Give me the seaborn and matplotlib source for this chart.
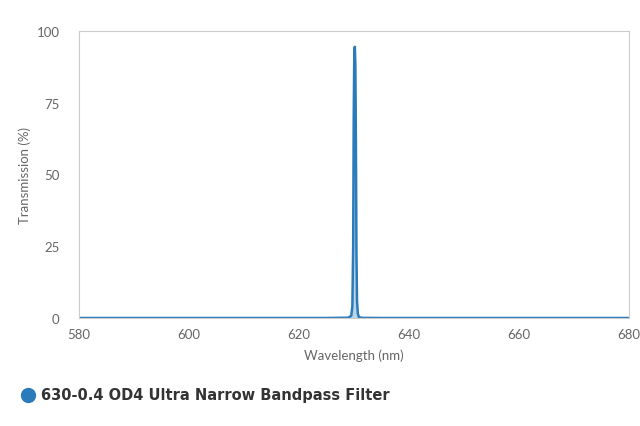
import numpy as np
import pandas as pd
import matplotlib
matplotlib.use("Agg")
import matplotlib.pyplot as plt
from matplotlib.lines import Line2D
import seaborn as sns

# spectrum (nm, %)
wavelength = [580, 625, 629.0, 629.5, 629.7, 629.85, 629.95, 630.05, 630.15, 630.25, 630.35, 630.45, 630.55, 630.7, 630.9, 631.4, 635, 680]
transmission = [0, 0, 0.1, 0.8, 4, 25, 70, 92, 94.5, 88, 60, 22, 6, 1.5, 0.3, 0.05, 0, 0]
series_name = "630-0.4 OD4 Ultra Narrow Bandpass Filter"
x_ticks = [580, 600, 620, 640, 660, 680]
y_ticks = [0, 25, 50, 75, 100]

df = pd.DataFrame({"Wavelength": wavelength, "Transmission": transmission})

sns.set_style("white")
plt.rcParams['font.family'] = ['Lato', 'DejaVu Sans']

fig = plt.figure(figsize=(6.4, 4.27), dpi=100)
ax = fig.add_axes([79/640, 108/427, 550/640, 287/427])

line_col = "#2b7bba"
ax.fill_between(df["Wavelength"], df["Transmission"], color="#a9cbe3", alpha=0.8, lw=0)
sns.lineplot(data=df, x="Wavelength", y="Transmission", ax=ax, color=line_col, lw=1.8)

ax.set_xlim(580, 680)
ax.set_ylim(0, 100)
ax.set_xticks(x_ticks)
ax.set_yticks(y_ticks)
ax.tick_params(axis="both", colors="#ccd6eb", labelcolor="#666666", labelsize=9.5, width=1)
ax.tick_params(axis="x", length=4, pad=3)
ax.tick_params(axis="y", length=9, pad=5)
for s in ax.spines.values():
    s.set_color("#cccccc")
    s.set_linewidth(0.8)
ax.set_xlabel("Wavelength (nm)", color="#666666", fontsize=9.5, labelpad=6)
ax.set_ylabel("Transmission (%)", color="#666666", fontsize=9.5, labelpad=4)

# legend at bottom left
fig.add_artist(Line2D([28/640], [1-396/427], marker="o", markersize=10, color=line_col,
                      linestyle="none", transform=fig.transFigure))
fig.text(41/640, 1-396/427, series_name, fontsize=10.5, fontweight="bold", color="#333333",
         va="center", ha="left", family=["DejaVu Sans"])

fig.savefig("out.png", dpi=100)
